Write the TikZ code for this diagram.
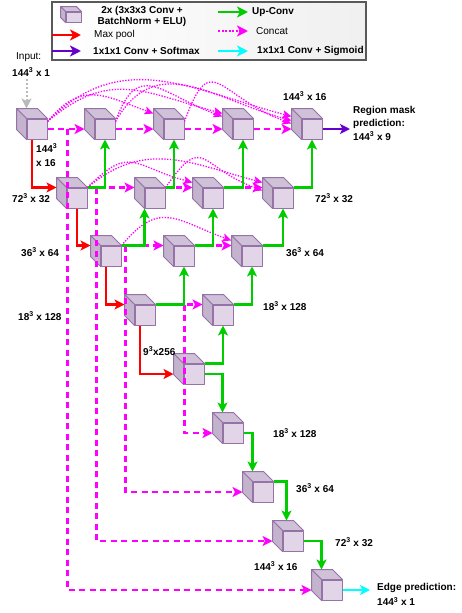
\documentclass[tikz,border=0pt]{standalone}
\usepackage{fontspec}
\setmainfont{Liberation Sans}
\usetikzlibrary{arrows.meta}

\definecolor{cubefront}{HTML}{E1D5E7}
\definecolor{cubetop}{HTML}{CFC1D8}
\definecolor{cubeleft}{HTML}{C3B3CD}
\definecolor{cubeedge}{HTML}{9673A6}
\definecolor{poolred}{HTML}{FF0000}
\definecolor{upgreen}{HTML}{00CC00}
\definecolor{catpink}{HTML}{FF00FF}
\definecolor{softpurple}{HTML}{6600CC}
\definecolor{sigcyan}{HTML}{00FFFF}

% depth of the cube faces, changed for the legend cube
\newcommand{\cubedepth}{10}
% cube: front face is the node, top and left faces drawn round it
\newcommand{\unetcube}[3][]{%
  \node[cube,#1] (#2) at #3 {};
  \filldraw[cubeface, fill=cubetop] (#2.north west) -- ++(-\cubedepth,\cubedepth)
    -- ([shift={(-\cubedepth,\cubedepth)}]#2.north east) -- (#2.north east) -- cycle;
  \filldraw[cubeface, fill=cubeleft] (#2.north west) -- ++(-\cubedepth,\cubedepth)
    -- ([shift={(-\cubedepth,\cubedepth)}]#2.south west) -- (#2.south west) -- cycle;
}

\begin{document}
\begin{tikzpicture}[x=1pt, y=1pt,
  cube/.style={draw=cubeedge, fill=cubefront, line width=1pt, line join=round,
    minimum size=20pt, inner sep=0pt},
  cubeface/.style={draw=cubeedge, line width=1pt, line join=round},
  lbl/.style={font=\fontsize{10}{12}\selectfont\bfseries, inner sep=0pt, anchor=west, align=left},
  plain/.style={font=\fontsize{10}{12}\selectfont, inner sep=0pt, anchor=west},
  head/.style={-{Stealth[length=10pt,width=10pt,inset=2.5pt]}},
  pool/.style={head, draw=poolred, line width=2.2pt},
  upconv/.style={head, draw=upgreen, line width=2.2pt},
  concat/.style={head, draw=catpink, line width=2.2pt, dash pattern=on 6pt off 4.5pt},
  skiparc/.style={draw=catpink, line width=1.3pt, dash pattern=on 1.3pt off 1.5pt,
    -{Stealth[length=9pt,width=8pt,inset=2pt]}},
  softmax/.style={head, draw=softpurple, line width=2.2pt},
  sigmoid/.style={head, draw=sigcyan, line width=2.2pt},
  inputarrow/.style={draw=gray!55, line width=2pt, dash pattern=on 2pt off 2pt,
    -{Stealth[length=10pt,width=10pt,inset=2.5pt]}},
  legarrow/.style={line width=2.8pt, -{Stealth[length=11pt,width=11pt,inset=3pt]}},
  legframe/.style={draw=black!65, line width=1.2pt, left color=white, right color=gray!12}
]
\useasboundingbox (0,0) rectangle (461,-613);

% legend
\draw[legframe] (52,-2) rectangle (366,-60);
{\renewcommand{\cubedepth}{5}%
 \unetcube[minimum width=15pt, minimum height=10pt, line width=0.8pt]{legcube}{(73.5,-17)}}
\node[lbl, anchor=center, align=center, font=\fontsize{10}{11}\selectfont\bfseries]
  (legblock) at (142,-16.5) {2x (3x3x3 Conv +\\BatchNorm + ELU)};
\node[plain] (legpool) at (94,-35) {Max pool};
\node[lbl] (legsoftmax) at (93,-51) {1x1x1 Conv + Softmax};
\node[lbl] (legup) at (252,-12) {Up-Conv};
\node[plain] (legcat) at (256,-31) {Concat};
\node[lbl] (legsigmoid) at (257,-51) {1x1x1 Conv + Sigmoid};
\draw[legarrow, draw=poolred] ([xshift=-42pt]legpool.west) -- ([xshift=-13pt]legpool.west);
\draw[legarrow, draw=softpurple] ([xshift=-41pt]legsoftmax.west) -- ([xshift=-12pt]legsoftmax.west);
\draw[legarrow, draw=upgreen] ([xshift=-34pt]legup.west) -- ([xshift=-4pt]legup.west);
\draw[legarrow, draw=catpink, dash pattern=on 2pt off 1.5pt] ([xshift=-38pt]legcat.west) -- ([xshift=-8pt]legcat.west);
\draw[legarrow, draw=sigcyan] ([xshift=-39pt]legsigmoid.west) -- ([xshift=-9pt]legsigmoid.west);

% cubes, row by row
\unetcube{A1}{(37,-129)}
\unetcube{A2}{(105,-129)}
\unetcube{A3}{(174,-129)}
\unetcube{A4}{(243,-129)}
\unetcube{A5}{(312,-129)}
\unetcube{B1}{(77,-198)}
\unetcube{B2}{(155,-198)}
\unetcube{B3}{(213,-198)}
\unetcube{B4}{(283,-198)}
\unetcube{C1}{(111,-256)}
\unetcube{C2}{(184,-256)}
\unetcube{C3}{(252,-256)}
\unetcube{D1}{(145,-315)}
\unetcube{D2}{(223,-315)}
\unetcube{E}{(194,-374)}
% edge decoder
\unetcube{F}{(233,-433)}
\unetcube{G}{(263,-492)}
\unetcube{H}{(293,-541)}
\unetcube{I}{(332,-590)}

% input
\node[plain] (inputlbl) at (16,-57) {Input:};
\node[lbl] (inputsize) at (12,-72) {144\textsuperscript{3} x 1};
\draw[inputarrow] ([yshift=-3pt]inputsize.south -| A1.north west) -- ([yshift=10pt]A1.north west);

% concat, same row
\foreach \a/\b in {A1/A2, A2/A3, A3/A4, A4/A5}
  \draw[concat] (\a.east) -- ([xshift=-10pt]\b.west);
\foreach \a/\b in {B1/B2, B2/B3, B3/B4, C1/C2, C2/C3, D1/D2}
  \draw[concat] (\a.north east) -- ([xshift=-10pt]\b.north west);

% concat down to the edge decoder
\draw[concat] ([xshift=20pt]A1.east) |- ([xshift=-10pt]I.west);
\draw[concat] ([xshift=9pt]B1.north east) |- ([xshift=-10pt]H.west);
\draw[concat] ([xshift=4pt]C1.north east) |- ([xshift=-10pt]G.west);
\draw[concat] ([xshift=29pt]D1.north east) |- ([xshift=-10pt]F.west);

% nested skip arcs
\draw[skiparc] ([yshift=-3pt]A1.north east) to[out=50,in=160,looseness=1.3] ([xshift=-10pt,yshift=5pt]A3.north west);
\draw[skiparc] ([yshift=-3pt]A1.north east) to[out=40,in=165,looseness=1.2] ([xshift=-10pt,yshift=5pt]A4.north west);
\draw[skiparc] ([yshift=-3pt]A1.north east) to[out=45,in=165,looseness=1.1] ([xshift=-10pt,yshift=2pt]A5.north west);
\draw[skiparc] ([yshift=-3pt]A2.north east) to[out=70,in=160,looseness=1.6] ([xshift=-10pt,yshift=2pt]A4.north west);
\draw[skiparc] ([yshift=-3pt]A2.north east) to[out=60,in=165,looseness=1.2] ([xshift=-10pt,yshift=-2pt]A5.north west);
\draw[skiparc] ([yshift=-3pt]A3.north east) to[out=70,in=160,looseness=1.9] ([xshift=-10pt,yshift=-5pt]A5.north west);
\draw[skiparc] (B1.north east) to[out=45,in=165,looseness=1.5] ([xshift=-10pt,yshift=5pt]B3.north west);
\draw[skiparc] (B1.north east) to[out=40,in=165,looseness=1.1] ([xshift=-10pt,yshift=5pt]B4.north west);
\draw[skiparc] (B2.north east) to[out=55,in=160,looseness=1.8] ([xshift=-10pt,yshift=-3pt]B4.north west);
\draw[skiparc] (C1.north east) to[out=50,in=160,looseness=1.4] ([xshift=-10pt,yshift=5pt]C3.north west);

% up-conv
\draw[upconv] (B1.north east) -| (A2.south);
\draw[upconv] (B2.north east) -| (A3.south);
\draw[upconv] (B3.north east) -| (A4.south);
\draw[upconv] (B4.north east) -| (A5.south);
\draw[upconv] (C1.north east) -| (B2.south west);
\draw[upconv] (C2.north east) -| (B3.south);
\draw[upconv] (C3.north east) -| (B4.south);
\draw[upconv] (D1.north east) -| (C2.south);
\draw[upconv] (D2.north east) -| (C3.south);
\draw[upconv] (E.north east) -| (D2.south);
\draw[upconv] (E.east) -| ([yshift=10pt]F.north west);
\draw[upconv] (F.east) -| ([yshift=10pt]G.north west);
\draw[upconv] (G.north east) -| ([xshift=4pt,yshift=10pt]H.north west);
\draw[upconv] (H.east) -| ([yshift=10pt]I.north west);

% max pool
\draw[pool] ([xshift=-5pt]A1.south) |- ([xshift=-10pt]B1.north west);
\draw[pool] (B1.south) |- ([xshift=-10pt]C1.north west);
\draw[pool] ([xshift=-5pt]C1.south) |- ([xshift=-10pt]D1.north west);
\draw[pool] ([xshift=-5pt]D1.south) |- ([xshift=-10pt]E.west);

% outputs
\coordinate (maskout) at (350,-129);
\coordinate (edgeout) at (370,-590);
\draw[softmax] (A5.east) -- (maskout);
\draw[sigmoid] (I.east) -- (edgeout);
\node[lbl, font=\fontsize{10}{13.5}\selectfont\bfseries] (masklbl) at (353,-123)
  {Region mask\\prediction:\\144\textsuperscript{3} x 9};
\node[lbl, font=\fontsize{10}{15}\selectfont\bfseries] (edgelbl) at (377,-594.5)
  {Edge prediction:\\144\textsuperscript{3} x 1};

% sizes
\node[lbl, font=\fontsize{10}{14}\selectfont\bfseries] (sizeA1) at (36,-155) {144\textsuperscript{3}\\x 16};
\node[lbl] (sizeA5) at (283,-96) {144\textsuperscript{3} x 16};
\node[lbl] (sizeB1) at (12,-198) {72\textsuperscript{3} x 32};
\node[lbl] (sizeB4) at (315,-198) {72\textsuperscript{3} x 32};
\node[lbl] (sizeC1) at (21,-252) {36\textsuperscript{3} x 64};
\node[lbl] (sizeC3) at (286,-252) {36\textsuperscript{3} x 64};
\node[lbl] (sizeD1) at (18,-316) {18\textsuperscript{3} x 128};
\node[lbl] (sizeD2) at (263,-306) {18\textsuperscript{3} x 128};
\node[lbl] (sizeE) at (143,-351) {9\textsuperscript{3}x256};
\node[lbl] (sizeF) at (273,-433) {18\textsuperscript{3} x 128};
\node[lbl] (sizeG) at (296,-488) {36\textsuperscript{3} x 64};
\node[lbl] (sizeH) at (335,-542) {72\textsuperscript{3} x 32};
\node[lbl] (sizeI) at (254,-566) {144\textsuperscript{3} x 16};
\end{tikzpicture}
\end{document}
